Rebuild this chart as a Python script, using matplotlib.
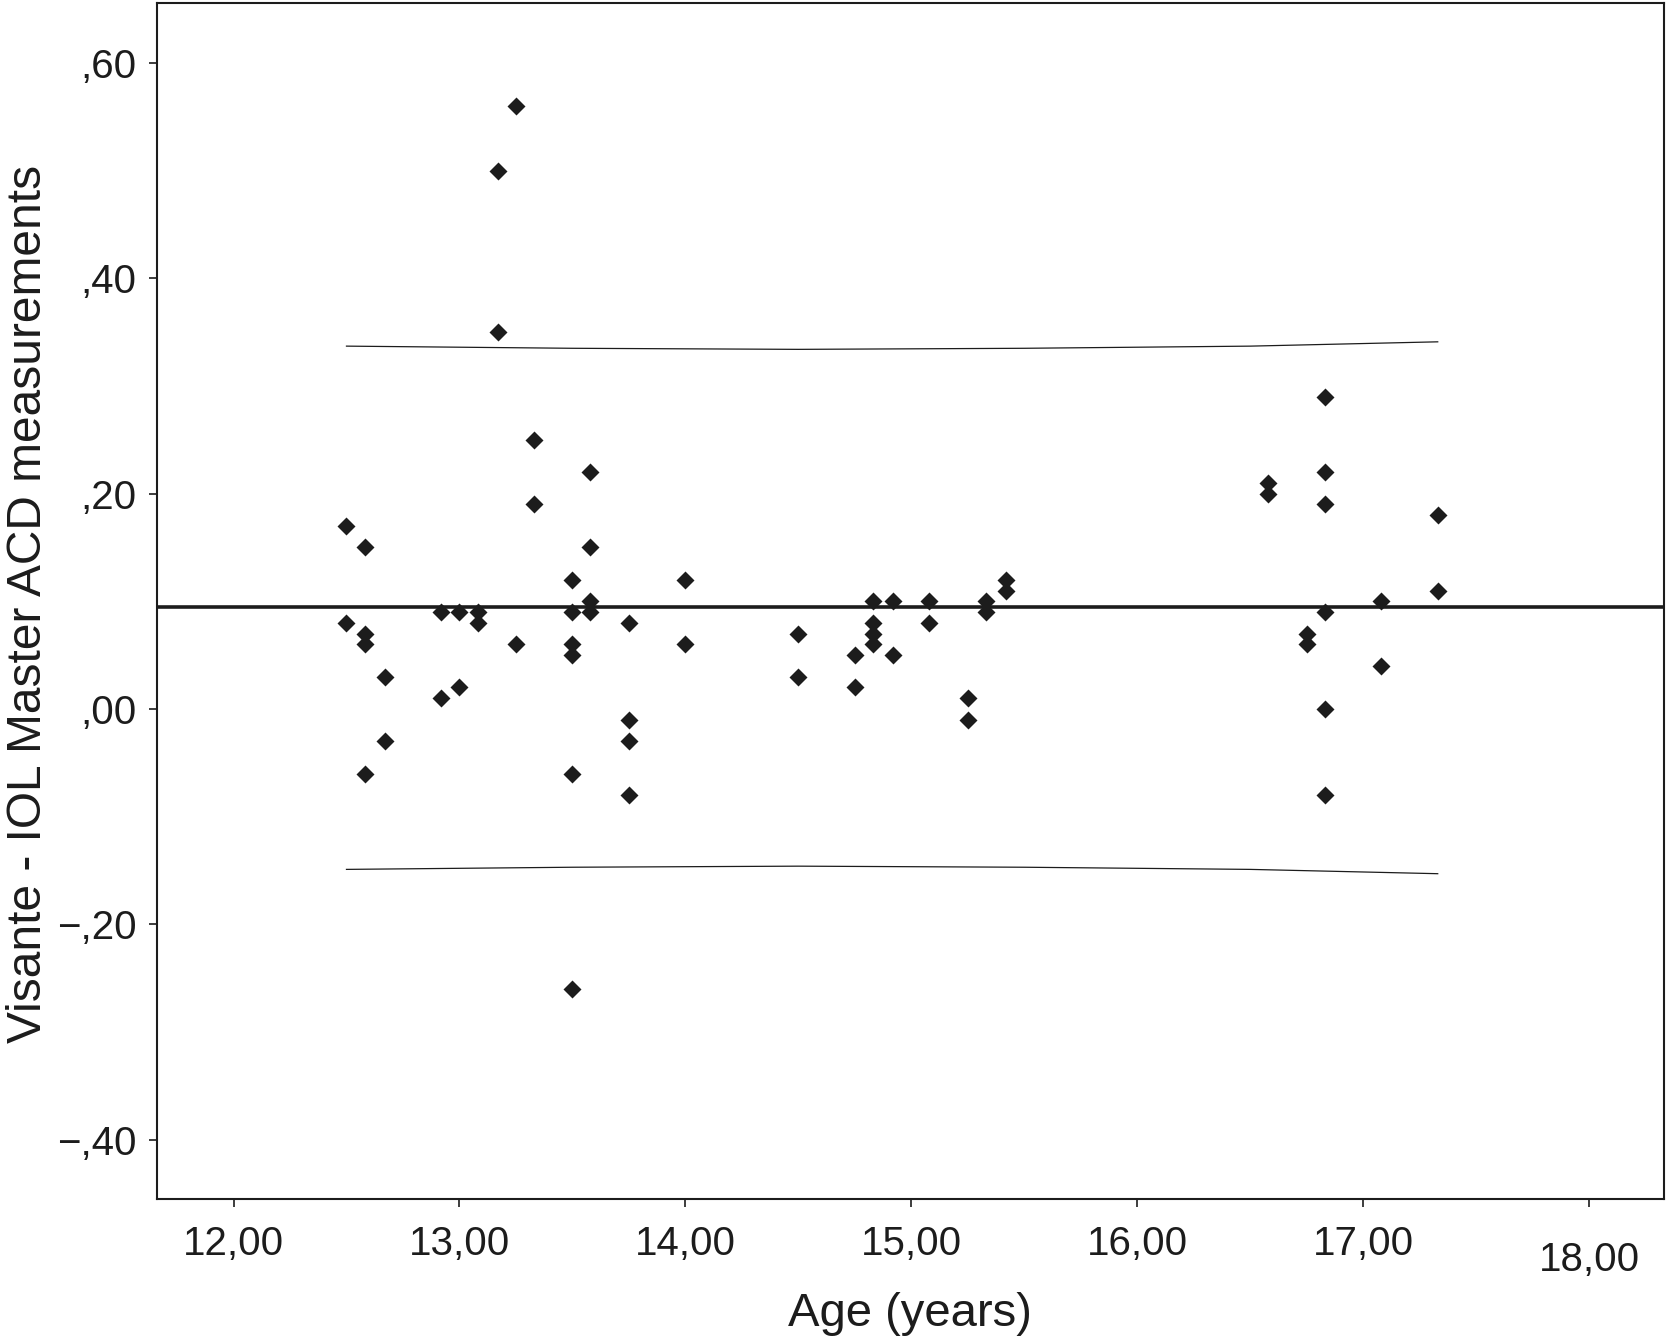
import matplotlib.pyplot as plt
from matplotlib.transforms import ScaledTranslation

# Data (age in years, difference in mm)
age = [12.50, 12.50, 12.58, 12.58, 12.58, 12.58, 12.67, 12.67,
       12.92, 12.92, 13.00, 13.00, 13.08, 13.08, 13.17, 13.17,
       13.25, 13.25, 13.33, 13.33, 13.50, 13.50, 13.50, 13.50,
       13.50, 13.50, 13.58, 13.58, 13.58, 13.58, 13.75, 13.75,
       13.75, 13.75, 14.00, 14.00, 14.50, 14.50, 14.75, 14.75,
       14.83, 14.83, 14.83, 14.83, 14.92, 14.92, 15.08, 15.08,
       15.25, 15.25, 15.33, 15.33, 15.42, 15.42, 16.58, 16.58,
       16.75, 16.75, 16.83, 16.83, 16.83, 16.83, 16.83, 16.83,
       17.08, 17.08, 17.33, 17.33]
diff = [0.17, 0.08, 0.15, 0.07, 0.06, -0.06, 0.03, -0.03,
        0.09, 0.01, 0.09, 0.02, 0.09, 0.08, 0.50, 0.35,
        0.56, 0.06, 0.25, 0.19, 0.12, 0.09, 0.06, 0.05,
        -0.06, -0.26, 0.22, 0.15, 0.10, 0.09, 0.08, -0.01,
        -0.03, -0.08, 0.12, 0.06, 0.07, 0.03, 0.05, 0.02,
        0.10, 0.08, 0.07, 0.06, 0.10, 0.05, 0.10, 0.08,
        0.01, -0.01, 0.10, 0.09, 0.12, 0.11, 0.21, 0.20,
        0.07, 0.06, 0.29, 0.22, 0.19, 0.09, 0.00, -0.08,
        0.10, 0.04, 0.18, 0.11]

mean_diff = 0.095

# prediction limits (slightly curved), read at a few ages
band_age = [12.50, 13.50, 14.50, 15.50, 16.50, 17.33]
band_upper = [0.337, 0.335, 0.334, 0.335, 0.337, 0.341]
band_lower = [-0.149, -0.147, -0.146, -0.147, -0.149, -0.153]

xticks = [12, 13, 14, 15, 16, 17, 18]
yticks = [-0.4, -0.2, 0.0, 0.2, 0.4, 0.6]

plt.rcParams['font.family'] = ['Liberation Sans', 'DejaVu Sans']
ink = '#1c1c1c'

fig = plt.figure(figsize=(16.67, 13.38), dpi=100)
ax = fig.add_axes([0.094, 0.104, 0.904, 0.894])

ax.axhline(mean_diff, color=ink, lw=2.6, zorder=2)
ax.plot(band_age, band_upper, color=ink, lw=0.9, zorder=2)
ax.plot(band_age, band_lower, color=ink, lw=0.9, zorder=2)
ax.plot(age, diff, 'D', color=ink, ms=8.8, mec='none', zorder=3)

ax.set_xlim(11.66, 18.33)
ax.set_ylim(-0.455, 0.656)

ax.set_xticks(xticks)
ax.set_xticklabels([f"{t:.2f}".replace('.', ',') for t in xticks])
ax.set_yticks(yticks)


def ylab(v):
    s = f"{abs(v):.2f}".replace('0.', ',', 1)
    return ("\u2212" + s) if v < 0 else s


ax.set_yticklabels([ylab(v) for v in yticks])

ax.tick_params(axis='both', direction='out', length=5.5, width=1.2, color=ink,
               labelsize=29, labelcolor=ink)
ax.tick_params(axis='x', pad=13)
ax.tick_params(axis='y', pad=9)

# the last x label sits a bit lower in the original
last = ax.get_xticklabels()[-1]
last.set_transform(last.get_transform() + ScaledTranslation(0, -0.16, fig.dpi_scale_trans))

for sp in ax.spines.values():
    sp.set_linewidth(1.5)
    sp.set_color(ink)

ax.set_xlabel("Age (years)", fontsize=34, color=ink, labelpad=10)
ax.set_ylabel("Visante - IOL Master ACD measurements", fontsize=34.5, color=ink)
ax.yaxis.set_label_coords(-0.070, 0.497)

fig.savefig("out.png", dpi=100, facecolor='white')
